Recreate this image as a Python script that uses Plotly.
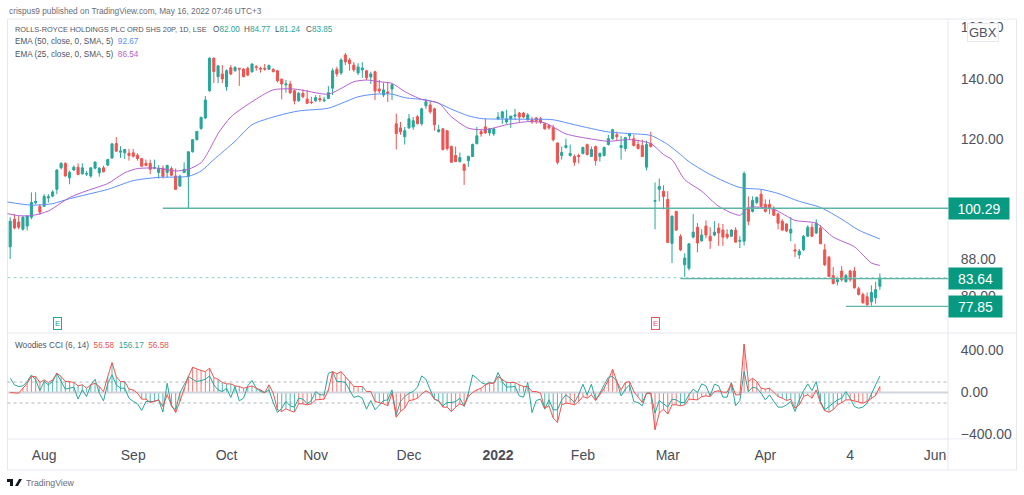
# ================================================= Libraries =========================================================

import numpy as np
import plotly.graph_objects as go

# ================================================= Chart data ========================================================

# Daily candles, Rolls-Royce, one value per trading session.
opens = [
    90.8, 97.5, 96.8, 95.0, 95.8, 98.0, 101.7, 100.8, 100.8, 103.0,
    103.5, 105.3, 111.3, 112.6, 108.5, 110.7, 111.5, 109.6, 109.5, 109.0,
    111.2, 109.9, 111.3, 112.1, 114.2, 118.5, 115.9, 115.7, 115.6, 115.7,
    115.0, 114.0, 112.6, 112.6, 111.2, 110.0, 111.2, 110.0, 111.1, 109.0,
    106.2, 110.0, 108.9, 116.0, 119.7, 123.2, 126.6, 135.8, 147.7, 140.8,
    141.8, 137.2, 144.1, 143.0, 143.9, 143.6, 143.9, 142.6, 144.5, 143.9,
    143.9, 143.5, 143.5, 143.0, 139.9, 137.9, 138.2, 135.8, 132.3, 134.9,
    132.9, 131.9, 132.3, 133.1, 132.3, 133.1, 136.7, 143.5, 142.2, 148.9,
    147.0, 145.1, 142.2, 143.3, 143.0, 140.7, 142.6, 136.4, 134.3, 135.4,
    136.4, 124.7, 123.4, 120.6, 123.4, 123.7, 127.0, 124.7, 130.6, 130.9,
    129.6, 122.2, 123.1, 122.5, 117.6, 114.9, 113.1, 112.3, 113.4, 114.6,
    118.5, 122.2, 123.7, 121.8, 121.5, 126.3, 126.6, 125.3, 126.3, 127.2,
    128.2, 128.2, 126.0, 126.0, 126.6, 126.3, 124.7, 124.1, 123.4, 118.7,
    114.9, 117.3, 114.9, 114.6, 114.9, 115.5, 118.2, 114.6, 117.6, 114.6,
    114.9, 118.2, 120.0, 121.2, 117.3, 117.0, 120.9, 120.0, 118.2, 117.9,
    111.5, 118.5, 102.1, 105.3, 104.8, 102.6, 91.6, 99.5, 93.3, 86.7,
    85.9, 93.1, 95.5, 92.2, 95.8, 93.3, 93.6, 95.3, 94.8, 93.8,
    93.3, 94.8, 92.1, 92.1, 100.3, 99.5, 101.8, 104.0, 101.3, 101.3,
    100.3, 98.8, 97.0, 96.3, 94.1, 90.1, 88.9, 90.1, 93.3, 95.5,
    94.1, 95.3, 90.1, 88.4, 84.3, 83.0, 85.3, 83.0, 85.3, 85.3,
    81.5, 80.3, 79.8, 78.8, 79.6, 82.0,
]
highs = [
    98.0, 98.8, 98.3, 98.3, 98.5, 104.5, 104.5, 101.3, 104.0, 104.0,
    105.1, 110.9, 112.9, 112.9, 110.5, 112.0, 112.6, 112.6, 110.4, 111.5,
    113.1, 111.5, 111.9, 113.9, 118.7, 120.5, 117.7, 116.9, 116.9, 116.9,
    115.5, 114.2, 113.7, 113.7, 113.7, 112.1, 112.0, 112.2, 111.7, 111.1,
    109.4, 112.9, 116.2, 119.8, 122.4, 127.0, 134.0, 148.0, 148.0, 145.1,
    145.1, 143.5, 145.1, 144.7, 143.9, 143.9, 144.5, 145.7, 145.1, 144.5,
    145.5, 145.3, 143.9, 143.3, 140.1, 139.6, 139.3, 136.3, 135.4, 136.3,
    136.1, 133.7, 134.3, 134.3, 133.7, 137.5, 143.9, 144.5, 147.7, 149.7,
    147.8, 146.2, 145.8, 146.2, 143.3, 142.6, 143.0, 139.6, 138.6, 138.6,
    138.2, 128.0, 125.3, 123.7, 127.9, 126.9, 127.6, 130.0, 133.0, 132.0,
    130.0, 124.4, 123.4, 122.5, 117.9, 117.6, 115.8, 112.6, 114.9, 118.5,
    123.7, 123.1, 126.3, 123.4, 123.4, 128.5, 128.9, 129.3, 127.2, 129.6,
    128.6, 128.6, 128.2, 126.9, 126.9, 126.9, 125.0, 124.4, 124.4, 118.7,
    117.6, 120.0, 118.2, 115.2, 115.5, 117.6, 118.5, 117.6, 117.9, 115.8,
    117.6, 121.2, 123.1, 122.2, 120.9, 120.6, 121.8, 121.2, 119.7, 119.7,
    119.4, 122.2, 107.2, 108.3, 106.4, 104.8, 98.3, 99.5, 93.8, 89.3,
    91.7, 98.8, 96.5, 95.0, 97.2, 95.5, 97.0, 96.5, 96.3, 95.0,
    95.0, 95.5, 93.3, 110.3, 103.4, 103.4, 103.4, 105.3, 102.6, 102.6,
    100.8, 99.2, 97.5, 96.5, 98.0, 91.5, 90.3, 93.6, 96.0, 96.5,
    97.5, 96.0, 91.5, 88.7, 86.2, 84.1, 86.4, 84.7, 85.6, 86.2,
    81.9, 80.7, 80.7, 82.2, 83.0, 84.77,
]
lows = [
    88.0, 95.0, 95.0, 94.7, 94.7, 97.5, 101.3, 98.6, 100.6, 101.8,
    103.2, 104.0, 110.9, 108.8, 106.7, 110.4, 109.2, 109.4, 109.0, 108.5,
    110.9, 108.8, 110.0, 111.8, 113.9, 116.0, 114.2, 113.9, 113.4, 114.3,
    113.4, 111.6, 111.8, 109.5, 110.9, 108.3, 108.3, 108.5, 109.0, 105.1,
    106.0, 109.8, 100.3, 115.8, 119.4, 122.8, 126.2, 135.4, 138.5, 138.5,
    138.5, 135.8, 141.4, 142.6, 137.5, 140.6, 141.0, 142.3, 143.0, 142.3,
    143.0, 143.3, 142.3, 138.7, 132.8, 135.1, 134.7, 131.1, 132.0, 133.2,
    131.2, 131.2, 132.0, 131.9, 131.9, 133.0, 134.3, 140.8, 141.4, 145.1,
    143.0, 142.6, 141.4, 140.4, 139.6, 138.2, 132.6, 135.0, 133.6, 131.9,
    132.6, 116.7, 121.2, 118.2, 123.1, 122.8, 124.6, 124.1, 129.6, 128.0,
    122.5, 121.9, 116.4, 116.4, 112.9, 113.1, 112.9, 106.5, 111.6, 114.5,
    118.2, 120.6, 121.5, 120.9, 120.9, 126.0, 124.7, 124.7, 123.4, 126.0,
    125.3, 126.6, 125.7, 124.7, 124.7, 124.7, 122.8, 122.8, 119.1, 112.3,
    113.7, 117.0, 114.6, 111.9, 112.6, 115.2, 114.9, 114.6, 112.0, 113.1,
    114.6, 117.9, 119.7, 119.4, 113.7, 116.1, 119.7, 117.6, 116.7, 114.6,
    110.6, 117.3, 95.0, 102.1, 100.0, 91.8, 87.1, 94.6, 89.8, 84.0,
    85.4, 92.8, 89.5, 92.0, 92.8, 90.3, 93.3, 91.0, 91.0, 92.6,
    93.1, 91.9, 90.5, 91.1, 96.0, 99.2, 101.3, 100.5, 99.2, 98.8,
    98.3, 95.0, 94.6, 94.3, 92.1, 88.4, 88.0, 89.8, 93.3, 93.1,
    93.8, 91.5, 86.4, 84.1, 82.4, 82.2, 83.0, 82.8, 83.0, 81.5,
    80.1, 78.4, 78.0, 78.0, 78.4, 81.24,
]
closes = [
    97.0, 95.3, 95.5, 98.0, 98.3, 101.8, 102.1, 99.3, 103.4, 103.3,
    104.6, 110.7, 112.6, 109.0, 110.0, 111.5, 109.4, 111.3, 109.7, 111.3,
    113.0, 111.2, 110.2, 113.7, 118.4, 116.2, 116.2, 116.7, 114.9, 114.7,
    114.0, 111.8, 112.0, 110.9, 111.4, 111.1, 108.9, 112.0, 109.2, 105.3,
    108.9, 110.9, 116.0, 119.7, 122.3, 126.8, 132.6, 147.7, 142.7, 144.8,
    140.0, 143.0, 141.8, 144.2, 143.6, 140.8, 141.4, 145.5, 144.2, 143.6,
    143.6, 144.9, 142.7, 139.3, 138.2, 138.2, 135.1, 132.3, 134.9, 133.7,
    131.5, 131.7, 133.4, 132.6, 132.6, 135.1, 143.0, 141.8, 147.0, 146.3,
    145.6, 143.3, 144.4, 144.0, 140.4, 141.8, 135.7, 135.7, 136.1, 135.0,
    137.9, 121.6, 122.2, 122.5, 126.3, 125.7, 124.7, 129.6, 132.0, 128.6,
    124.4, 122.8, 116.7, 117.0, 112.9, 113.1, 114.3, 110.6, 114.6, 118.2,
    120.9, 121.5, 121.8, 123.1, 123.1, 126.9, 128.6, 126.3, 127.2, 127.6,
    126.9, 126.9, 127.6, 125.3, 125.7, 125.3, 123.1, 123.4, 119.7, 112.9,
    115.8, 117.9, 115.5, 112.9, 114.6, 117.3, 115.2, 116.7, 113.4, 115.5,
    117.3, 120.0, 122.8, 120.6, 117.9, 120.3, 121.5, 117.9, 117.0, 114.6,
    118.2, 117.6, 102.3, 106.1, 103.4, 91.8, 98.3, 94.8, 90.1, 88.2,
    91.5, 94.3, 91.7, 93.6, 93.6, 92.2, 94.3, 94.1, 93.1, 93.1,
    94.8, 91.9, 92.3, 109.7, 97.0, 102.3, 103.1, 100.8, 99.5, 100.3,
    98.5, 96.5, 94.8, 94.6, 95.0, 89.8, 89.8, 93.3, 95.5, 93.3,
    96.5, 91.5, 86.7, 84.1, 82.6, 83.4, 83.4, 84.3, 83.4, 81.7,
    80.3, 78.6, 78.2, 80.7, 81.3, 83.85,
]

# Moving averages, read at the bends of each line.
ema50_x = [-1, 5, 10, 14, 23, 29, 35, 42, 45, 48, 53, 57, 63, 68, 75, 78, 82, 86, 90, 93, 98, 101, 104, 108, 111, 117,
           122, 128, 133, 141, 146, 151, 155, 158, 160, 165, 172, 177, 181, 186, 191, 196, 200, 205]
ema50 = [102.0, 101.1, 101.5, 102.8, 105.3, 107.7, 108.6, 108.9, 110.4, 113.7, 119.2, 124.4, 127.3, 128.9, 129.8,
         131.4, 133.7, 134.6, 134.6, 133.4, 132.6, 131.5, 129.5, 127.3, 126.4, 126.2, 126.2, 126.0, 124.4, 122.1,
         121.6, 121.0, 118.2, 115.2, 113.1, 109.4, 105.8, 105.3, 104.2, 102.1, 100.5, 97.5, 94.8, 92.67]
ema25_x = [-1, 2, 5, 9, 14, 18, 23, 27, 30, 35, 39, 42, 45, 47, 49, 52, 57, 62, 67, 75, 78, 81, 84, 87, 90, 93, 97,
           101, 104, 108, 112, 117, 122, 126, 131, 137, 141, 146, 151, 154, 156, 159, 163, 167, 172, 174, 180, 185,
           190, 194, 199, 203, 205]
ema25 = [99.0, 98.4, 98.4, 99.6, 103.1, 104.9, 106.9, 109.9, 111.1, 111.2, 110.4, 110.9, 112.8, 116.7, 121.6, 126.9,
         132.0, 136.1, 136.4, 134.6, 136.6, 139.0, 139.6, 139.0, 138.4, 135.5, 132.8, 131.5, 127.0, 123.3, 122.8,
         124.4, 125.4, 125.0, 121.5, 119.9, 119.2, 119.7, 118.5, 115.2, 113.7, 108.0, 104.8, 100.8, 98.5, 100.5,
         100.0, 97.2, 96.5, 93.1, 90.8, 87.1, 86.54]

# Woodies CCI pane, one value per session.
cci = [
    0, -6, -6, 41, 88, 152, 152, 95, 120, 95,
    120, 183, 152, 104, 104, 95, 63, 73, 41, 73,
    88, 57, 9, 152, 284, 152, 104, 104, 32, 25,
    -6, -63, -63, -95, -85, -70, -133, -22, -117, -190,
    -85, 41, 152, 240, 221, 209, 199, 231, 142, 126,
    95, 82, 82, 63, 57, 41, 51, 63, 41, 25,
    0, 73, -6, -164, -180, -155, -174, -186, -107, -107,
    -117, -107, -70, -70, -63, 25, 199, 177, 199, 152,
    104, 57, 57, 57, 9, 9, -85, -95, -107, -126,
    -6, -234, -180, -149, -76, -70, -54, -13, 16, -6,
    -63, -76, -139, -139, -180, -139, -107, -126, -38, 0,
    25, 41, 73, 88, 88, 152, 126, 95, 95, 95,
    73, 57, 57, 9, 9, -6, -149, -126, -243, -284,
    -117, -101, -107, -117, -85, -38, -54, -22, -76, -22,
    41, 120, 221, 104, 25, 95, 104, 9, -38, -95,
    -6, -6, -354, -196, -158, -205, -117, -117, -126, -117,
    -63, -63, -70, -38, -32, -38, 9, 16, 3, 3,
    88, -22, -22, 461, 104, 136, 104, 41, 32, 41,
    0, -38, -54, -76, -63, -149, -117, -38, -22, -54,
    25, -101, -174, -186, -164, -117, -95, -70, -70, -79,
    -92, -101, -85, -54, -28, 56.58,
]
cci_turbo = [
    136, 73, 57, 63, 104, 167, 120, 19, 104, 73,
    104, 183, 104, 32, 41, 51, -63, 25, -38, 73,
    126, -6, -79, 88, 167, 73, 41, 41, -54, -85,
    -107, -171, -85, -85, -85, -70, -186, 88, -133, -164,
    -6, 73, 152, 126, 104, 114, 126, 158, 73, 25,
    9, 41, -47, 57, -79, -54, 63, 114, 41, 9,
    0, 25, -95, -190, -149, -85, -126, -139, -54, -63,
    -107, -76, 9, -22, -22, 183, 199, 104, 104, 95,
    25, -47, -32, -54, -158, -76, -164, -117, -76, -70,
    25, -212, -85, -38, -6, 9, 51, 158, 126, 25,
    -63, -85, -126, -95, -95, -85, -54, -133, -6, 167,
    136, 95, 79, 95, 88, 190, 104, 51, 51, 57,
    -32, -44, 98, -190, -76, -63, -158, -70, -164, -164,
    -70, -22, -54, -95, -22, 79, -22, 79, -70, -6,
    73, 145, 152, 104, -32, 32, 73, -85, -95, -126,
    -6, -6, -196, -76, -107, -139, -63, -70, -95, -95,
    -22, 32, 0, 82, 63, -32, 79, 63, -44, -44,
    95, -126, -76, 199, 9, 51, 41, -6, -70, -22,
    -85, -139, -139, -117, -85, -180, -70, 16, 82, 19,
    104, -85, -164, -133, -101, -70, -54, 9, -54, -133,
    -149, -139, -101, -6, 73, 156.17,
]
teal_bar_runs = [(8, 28), (31, 37), (49, 67), (83, 90), (100, 103), (115, 121), (126, 129), (147, 149), (158, 159),
                 (180, 186), (191, 197)]

# Drawn levels.
level_high = 100.29
level_mid = 83.64
level_low = 77.85
level_high_start = 36
level_mid_start = 158
level_low_start = 197
last_close = closes[-1]

# Axis labels.
time_tick_pos = [8, 29, 51, 72, 94, 115, 135, 155, 178, 198, 218]
time_tick_text = ['Aug', 'Sep', 'Oct', 'Nov', 'Dec', '<b>2022</b>', 'Feb', 'Mar', 'Apr', '4', 'Jun']
price_ticks = [160, 140, 120, 100, 88, 80]
cci_ticks = [400, 0, -400]

# ================================================= Styling ===========================================================

UP = '#26a69a'
DOWN = '#ef5350'
UP_BAR = 'rgba(38,166,154,0.75)'
DOWN_BAR = 'rgba(239,83,80,0.75)'
LABEL_BG = '#089981'
LEVEL = '#5db5a6'
BLUE = '#5b8ff9'
PURPLE = '#b35fd0'
GREY_TEXT = '#50535e'
FRAME = '#e6e8ee'
FONT = 'Liberation Sans'
W, H = 1024, 495

sessions = list(range(len(closes)))
x_start = -0.637
x_end = 221.06


# Pixel position to paper fraction.
def px(x):
    return x / W


def py(y):
    return 1 - y / H


# Colours of the histogram bars, from the teal runs.
bar_colors = [DOWN_BAR] * len(cci)
for first, last in teal_bar_runs:
    for n in range(first, last + 1):
        bar_colors[n] = UP_BAR

# ================================================= Figure ============================================================

fig = go.Figure()

fig.add_trace(go.Candlestick(x=sessions, open=opens, high=highs, low=lows, close=closes, whiskerwidth=0,
                             increasing=dict(line=dict(color=UP, width=1), fillcolor=UP),
                             decreasing=dict(line=dict(color=DOWN, width=1), fillcolor=DOWN),
                             xaxis='x', yaxis='y'))
fig.add_trace(go.Scatter(x=ema50_x, y=ema50, mode='lines', line=dict(color=BLUE, width=1, shape='spline', smoothing=0.7),
                         xaxis='x', yaxis='y'))
fig.add_trace(go.Scatter(x=ema25_x, y=ema25, mode='lines', line=dict(color=PURPLE, width=1, shape='spline', smoothing=0.7),
                         xaxis='x', yaxis='y'))

# Horizontal levels.
fig.add_trace(go.Scatter(x=[x_start, x_end], y=[last_close, last_close], mode='lines',
                         line=dict(color='#8fd3ca', width=1, dash='dot'), xaxis='x', yaxis='y'))
for level, start, width in [(level_high, level_high_start, 1.6), (level_mid, level_mid_start, 1.3),
                            (level_low, level_low_start, 1.3)]:
    fig.add_trace(go.Scatter(x=[start, x_end], y=[level, level], mode='lines',
                             line=dict(color=LEVEL, width=width), xaxis='x', yaxis='y'))

# CCI pane.
fig.add_trace(go.Bar(x=sessions, y=cci, width=0.25, marker=dict(color=bar_colors, line=dict(width=0)),
                     xaxis='x2', yaxis='y2'))
fig.add_trace(go.Scatter(x=[x_start, x_end], y=[0, 0], mode='lines', line=dict(color='#d1d4dc', width=2),
                         xaxis='x2', yaxis='y2'))
fig.add_trace(go.Scatter(x=sessions, y=cci_turbo, mode='lines', line=dict(color=UP, width=1), xaxis='x2', yaxis='y2'))
fig.add_trace(go.Scatter(x=sessions, y=cci, mode='lines', line=dict(color=DOWN, width=1), xaxis='x2', yaxis='y2'))

# Frame, pane separators and guides.
shapes = []
for x0, y0, x1, y1 in [(7.5, 19, 1016.5, 19), (7.5, 333, 1016.5, 333), (7.5, 439, 1016.5, 439), (7.5, 470, 1016.5, 470),
                       (7.5, 19, 7.5, 470), (1016.5, 19, 1016.5, 470), (948, 19, 948, 470)]:
    shapes.append(dict(type='line', xref='paper', yref='paper', x0=px(x0), x1=px(x1), y0=py(y0), y1=py(y1),
                       line=dict(color=FRAME, width=1), layer='below'))
for level in [100, -100]:
    shapes.append(dict(type='line', xref='paper', yref='y2', x0=px(7.5), x1=px(948), y0=level, y1=level,
                       line=dict(color='#b2b5be', width=1, dash='dot'), layer='below'))
# Clip the lowest CCI label on the pane border.
shapes.append(dict(type='rect', xref='paper', yref='paper', x0=px(949), x1=px(1016), y0=py(439.5), y1=py(448),
                   fillcolor='white', line=dict(width=0), layer='above'))
# TradingView mark.
for path in ['M 0 -479 L 6 -479 L 6 -486 L 3 -486 L 3 -482 L 0 -482 Z',
             'M 12 -479 L 15 -479 L 11 -486 L 8 -486 Z']:
    shapes.append(dict(type='path', xref='paper', yref='paper', xsizemode='pixel', ysizemode='pixel',
                       xanchor=px(7), yanchor=1, path=path, fillcolor='#131722', line=dict(width=0)))


def note(text, x, y, size=8.2, color=GREY_TEXT, **kwargs):
    return dict(text=text, xref='paper', yref='paper', x=px(x), y=py(y), xanchor='left', yanchor='middle',
                showarrow=False, font=dict(family=FONT, size=size, color=color), **kwargs)


def tag(text, y, width):
    return dict(text=text, xref='paper', yref='y', x=px(948), y=np.log10(y), xanchor='left', yanchor='middle',
                showarrow=False, width=width, height=19, bgcolor=LABEL_BG, align='center',
                font=dict(family=FONT, size=14, color='white'))


def earnings(x, y, color):
    return dict(text='E', xref='paper', yref='paper', x=px(x), y=py(y), xanchor='center', yanchor='middle',
                showarrow=False, bordercolor=color, borderwidth=1, borderpad=1, bgcolor='white',
                font=dict(family=FONT, size=8, color=color))


annotations = [
    note('crispus9 published on TradingView.com, May 16, 2022 07:46 UTC+3', 7, 11, size=8.3, color='#6a6d78'),
    note('ROLLS-ROYCE HOLDINGS PLC ORD SHS 20P, 1D, LSE', 13, 30, size=7.4),
    note('O<span style="color:#26a69a">82.00</span>', 211, 30),
    note('H<span style="color:#26a69a">84.77</span>', 242, 30),
    note('L<span style="color:#26a69a">81.24</span>', 273, 30),
    note('C<span style="color:#26a69a">83.85</span>', 304, 30),
    note('EMA (50, close, 0, SMA, 5)  <span style="color:#5b8ff9">92.67</span>', 13, 42),
    note('EMA (25, close, 0, SMA, 5)  <span style="color:#b35fd0">86.54</span>', 13, 54),
    note('Woodies CCI (6, 14)  <span style="color:#ef5350">56.58</span>  <span style="color:#26a69a">156.17</span>  '
         '<span style="color:#ef5350">56.58</span>', 13, 345),
    note('TradingView', 24, 482.5, size=8.7, color='#6a6d78'),
    tag('100.29', level_high, 58),
    tag('83.64', level_mid, 51),
    tag('77.85', level_low, 51),
    dict(text='GBX', xref='paper', yref='paper', x=px(982.5), y=py(33), xanchor='center', yanchor='middle',
         showarrow=False, bgcolor='white', bordercolor=FRAME, borderwidth=1, borderpad=1,
         font=dict(family=FONT, size=13, color=GREY_TEXT)),
    earnings(57, 323, UP),
    earnings(655, 323, DOWN),
]

tick_font = dict(family=FONT, size=14, color=GREY_TEXT)
fig.update_layout(
    width=W, height=H, autosize=False,
    margin=dict(l=0, r=0, t=0, b=0, autoexpand=False), paper_bgcolor='white', plot_bgcolor='white',
    showlegend=False, hovermode=False, barmode='overlay',
    shapes=shapes, annotations=annotations,
    xaxis=dict(domain=[px(7.5), px(948)], range=[x_start, x_end], anchor='y', showgrid=False, zeroline=False,
               showticklabels=False, ticks='', rangeslider=dict(visible=False)),
    xaxis2=dict(domain=[px(7.5), px(948)], range=[x_start, x_end], anchor='y2', showgrid=False, zeroline=False,
                tickmode='array', tickvals=time_tick_pos, ticktext=time_tick_text, ticks='outside', ticklen=3,
                tickcolor='rgba(0,0,0,0)', tickfont=dict(family=FONT, size=14, color='#4a4d57')),
    yaxis=dict(domain=[py(333), py(19)], type='log', range=[np.log10(72.7), np.log10(163.4)], side='right',
               anchor='x', showgrid=False, zeroline=False, tickmode='array', tickvals=price_ticks,
               ticktext=['%.2f' % v for v in price_ticks], tickfont=tick_font, ticks='outside', ticklen=9,
               tickcolor='rgba(0,0,0,0)'),
    yaxis2=dict(domain=[py(439), py(333)], range=[-442, 566], side='right', anchor='x2', showgrid=False,
                zeroline=False, tickmode='array', tickvals=cci_ticks,
                ticktext=['400.00', '0.00', '\u2212400.00'], tickfont=tick_font, ticks='outside', ticklen=9,
                tickcolor='rgba(0,0,0,0)'),
)

# The page keeps the browser's default body margin unless it is cleared.
fig.write_html("out.html", config={'displayModeBar': False}, post_script="document.body.style.margin = '0';")
